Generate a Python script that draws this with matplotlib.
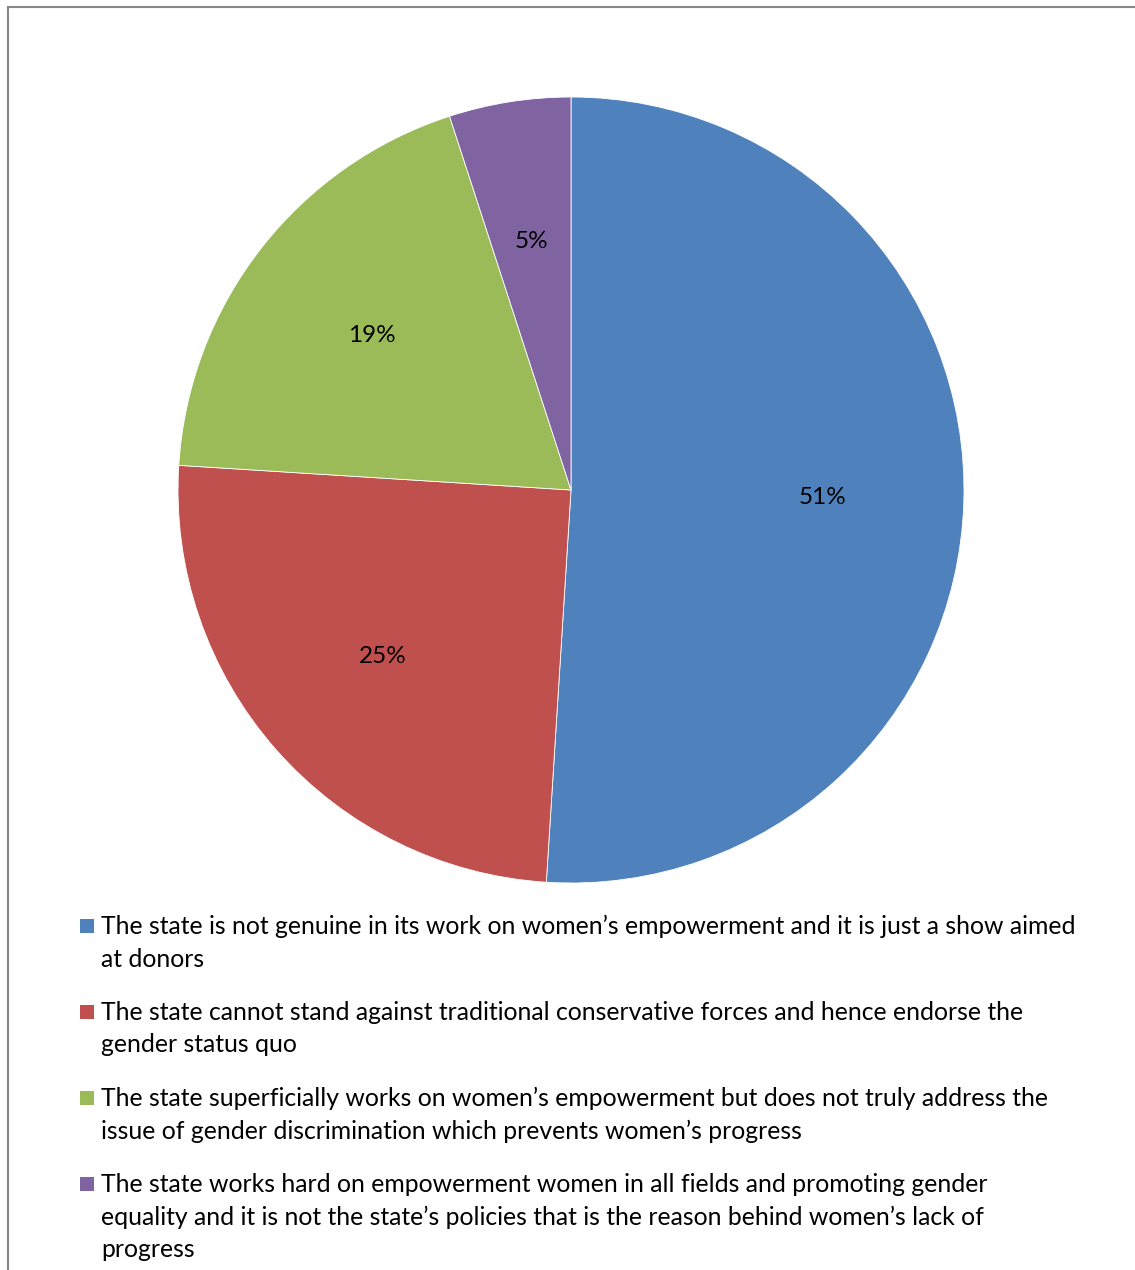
import matplotlib.pyplot as plt
from matplotlib.patches import Rectangle

# data
shares = [51, 25, 19, 5]
colors = ['#4F81BD', '#C0504D', '#9BBB59', '#8064A2']
labels = [
    'The state is not genuine in its work on women\u2019s empowerment and it is just a show aimed\nat donors',
    'The state cannot stand against traditional conservative forces and hence endorse the\ngender status quo',
    'The state superficially works on women\u2019s empowerment but does not truly address the\nissue of gender discrimination which prevents women\u2019s progress',
    'The state works hard on empowerment women in all fields and promoting gender\nequality and it is not the state\u2019s policies that is the reason behind women\u2019s lack of\nprogress',
]

plt.rcParams['font.family'] = ['Lato', 'DejaVu Sans']
W, H = 1135, 1270
fig = plt.figure(figsize=(W / 100, H / 100), dpi=100)

# pie
ax = fig.add_axes([178 / W, 387 / H, 786 / W, 786 / H])
ax.pie(shares, colors=colors, startangle=90, counterclock=False, radius=1,
       autopct='%d%%', pctdistance=0.64,
       wedgeprops=dict(linewidth=0.6, edgecolor='white'),
       textprops=dict(fontsize=17.5, color='black'))
ax.set_xlim(-1, 1)
ax.set_ylim(-1, 1)
ax.axis('off')

# legend drawn by hand
fs = 17.85
y0 = 926
for i, (lab, c) in enumerate(zip(labels, colors)):
    y = y0 + i * 86
    fig.patches.append(Rectangle((80 / W, 1 - (y + 7) / H), 14 / W, 14 / H,
                                 transform=fig.transFigure, facecolor=c,
                                 edgecolor='none'))
    fig.text(101 / W, 1 - (y - 11) / H, lab, fontsize=fs, va='top', ha='left',
             linespacing=1.5, color='black')

# outer border
fig.patches.append(Rectangle((7.5 / W, -0.1), 1.2, 1 - 7.5 / H + 0.1,
                             transform=fig.transFigure, fill=False,
                             edgecolor='#868686', linewidth=1.5))

fig.savefig('out.png', dpi=100)
